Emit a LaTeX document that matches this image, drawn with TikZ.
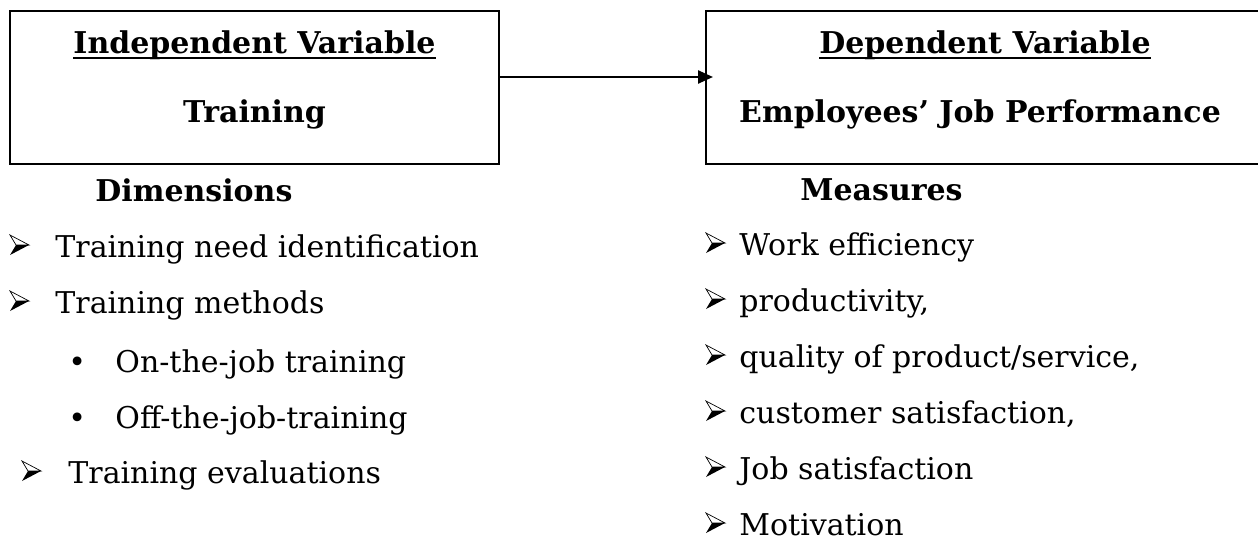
\documentclass[tikz,border=0pt]{standalone}
\usepackage{fontspec}
\setmainfont{DejaVu Serif}
\usetikzlibrary{arrows.meta}

\begin{document}
\begin{tikzpicture}[x=0.5pt, y=-0.5pt,
  varbox/.style={draw, line width=1pt, minimum height=76.5pt, inner sep=0pt},
  head/.style={font=\bfseries\fontsize{15}{18}\selectfont, inner sep=0pt, anchor=base},
  item/.style={font=\fontsize{15}{18}\selectfont, inner sep=0pt, anchor=base west},
  uline/.style={line width=1pt},
  arrowbullet/.pic={
    \fill (0,10) -- (19,0) -- (6,0) -- cycle;
    \draw[line width=0.35pt, line join=miter] (0,-10) -- (19,0) -- (6,0) -- cycle;
  }
]
\useasboundingbox (0,0) rectangle (1258,541);

% the two variable boxes
\node[varbox, minimum width=244.5pt] (ivbox) at (254.5,87.5) {};
\node[varbox, minimum width=278pt] (dvbox) at (984,87.5) {};

\node[head] (ivtitle) at (254.5,53) {Independent Variable};
\node[head] (ivname) at (254.5,122) {Training};
\node[head] (dvtitle) at (985,53) {Dependent Variable};
\node[head] (dvname) at (980,122) {Employees’ Job Performance};
\draw[uline] ([yshift=-2.6pt]ivtitle.base west) -- ([yshift=-2.6pt]ivtitle.base east);
\draw[uline] ([yshift=-2.6pt]dvtitle.base west) -- ([yshift=-2.6pt]dvtitle.base east);

\coordinate (arrowrow) at (600,77);
\draw[line width=1.2pt, -{Triangle[length=7.5pt,width=6.5pt]}]
  (ivbox.east |- arrowrow) -- ([xshift=4pt]dvbox.west |- arrowrow);

% dimensions of training
\node[head, anchor=base west] (dimhead) at (95,201) {Dimensions};
\pic at (10,245) {arrowbullet};
\node[item] (d1) at (55,257) {Training need identification};
\pic at (10,301) {arrowbullet};
\node[item] (d2) at (55,313) {Training methods};
\node[item] (db1) at (68,372) {•};
\node[item] (d21) at (115,372) {On-the-job training};
\node[item] (db2) at (68,428) {•};
\node[item] (d22) at (115,428) {Off-the-job-training};
\pic at (22,471) {arrowbullet};
\node[item] (d3) at (68,483) {Training evaluations};

% measures of performance
\node[head, anchor=base west] (msrhead) at (800,200) {Measures};
\foreach \txt [count=\i] in {Work efficiency, {productivity,},
    {quality of product/service,}, {customer satisfaction,},
    Job satisfaction, Motivation} {
  \pic at (706,{187+56*\i}) {arrowbullet};
  \node[item] (m\i) at (739,{199+56*\i}) {\txt};
}
\end{tikzpicture}
\end{document}
